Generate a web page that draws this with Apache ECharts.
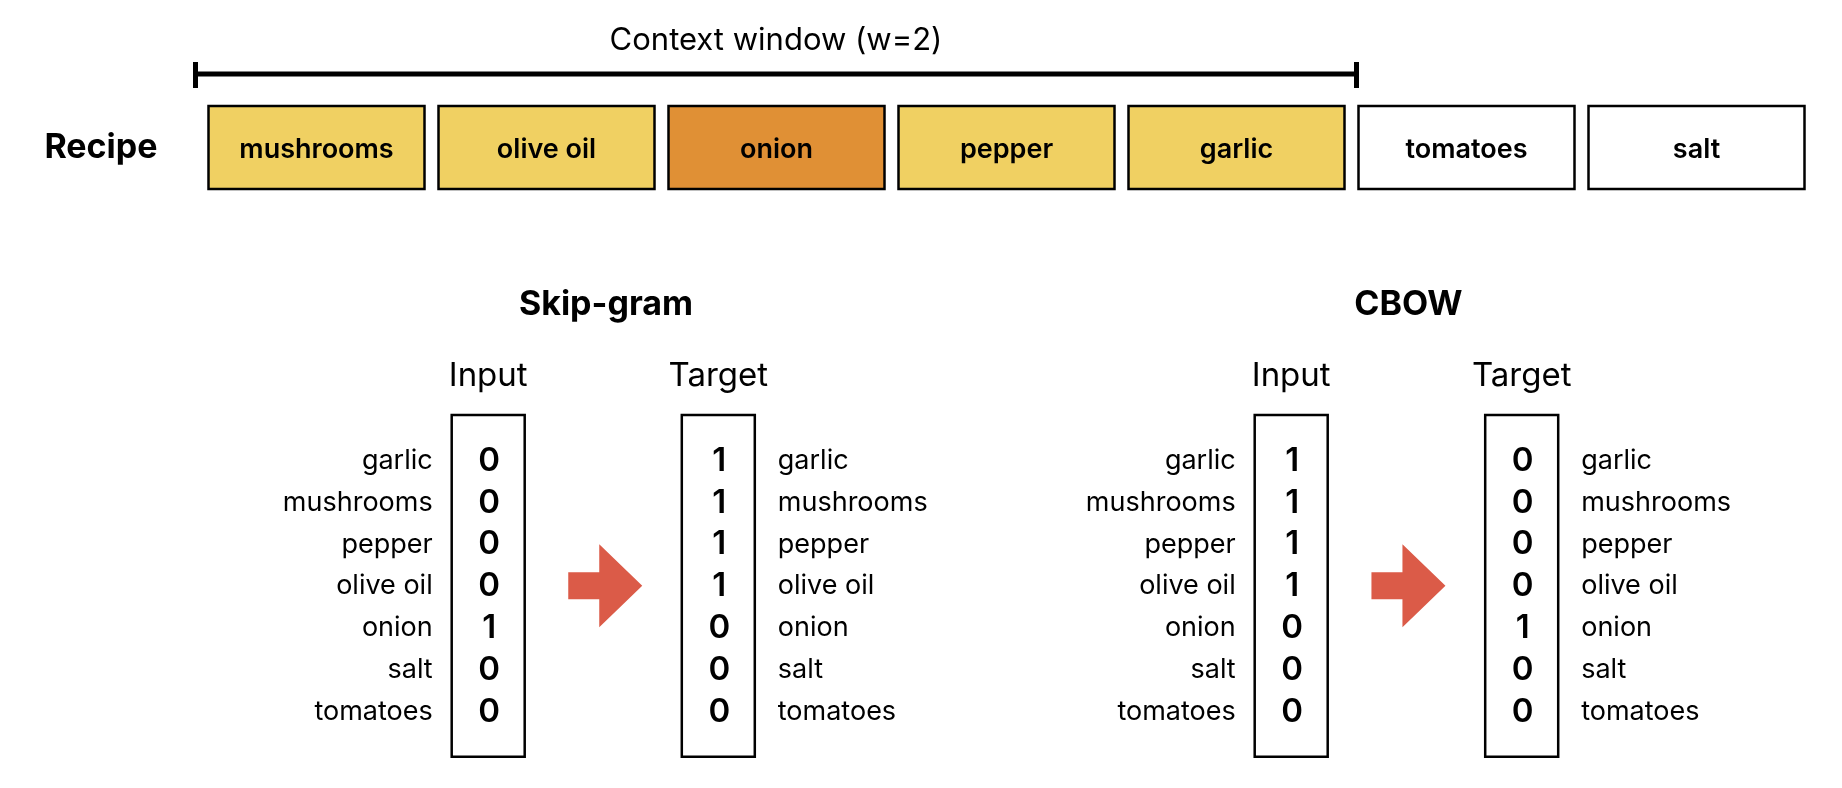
<!DOCTYPE html>
<html style="height: 100%">
  <head>
    <meta charset="utf-8" />
  </head>
  <body style="height: 100%; margin: 0; background: #fff">
    <div id="container" style="width: 1842px; height: 788px"></div>
    <script type="text/javascript" src="https://cdn.jsdelivr.net/npm/echarts@6/dist/echarts.min.js"></script>
    <script type="text/javascript">
      var dom = document.getElementById('container');
      var myChart = echarts.init(dom, null, { renderer: 'canvas' });
      var option;

      // recipe sequence and the context window around the centre word
      var recipe = ['mushrooms', 'olive oil', 'onion', 'pepper', 'garlic', 'tomatoes', 'salt'];
      var centerWord = 'onion';
      var windowSize = 2;

      // vocabulary order of the one-hot vectors
      var vocab = ['garlic', 'mushrooms', 'pepper', 'olive oil', 'onion', 'salt', 'tomatoes'];
      var skipInput = [0, 0, 0, 0, 1, 0, 0];
      var skipTarget = [1, 1, 1, 1, 0, 0, 0];
      var cbowInput = [1, 1, 1, 1, 0, 0, 0];
      var cbowTarget = [0, 0, 0, 0, 1, 0, 0];

      var FONT = 'Inter, "Noto Sans", sans-serif';
      var YELLOW = '#F0D062';
      var ORANGE = '#E09035';
      var ARROW = '#DB5B48';

      var centerIdx = recipe.indexOf(centerWord);

      // the four vector boxes
      var vectors = [
        { left: 451.7, side: 'left', name: 'Input', values: skipInput },
        { left: 681.8, side: 'right', name: 'Target', values: skipTarget },
        { left: 1254.7, side: 'left', name: 'Input', values: cbowInput },
        { left: 1485.2, side: 'right', name: 'Target', values: cbowTarget }
      ];
      var vecTop = 415, vecH = 341.7, vecW = 73;

      var grids = [{ left: 201.5, top: 106, width: 1610, height: 83 }];
      var xAxes = [{
        type: 'category', gridIndex: 0, data: recipe,
        axisLine: { show: false }, axisTick: { show: false }, axisLabel: { show: false }
      }];
      var yAxes = [{
        type: 'category', gridIndex: 0, data: ['Recipe'],
        axisLine: { show: false }, axisTick: { show: false },
        axisLabel: { margin: 44, padding: [4, 0, 0, 0], fontFamily: FONT, fontSize: 34, fontWeight: 'bold', color: '#000' }
      }];

      var series = [
        {
          type: 'custom', xAxisIndex: 0, yAxisIndex: 0,
          data: recipe.map(function (r, i) { return [i, 0]; }),
          renderItem: function (params, api) {
            var i = api.value(0);
            var c = api.coord([i, 0]);
            var band = api.size([1, 1]);
            var d = Math.abs(i - centerIdx);
            var fill = d === 0 ? ORANGE : (d <= windowSize ? YELLOW : '#fff');
            var w = band[0] - 14;
            return {
              type: 'group',
              children: [
                {
                  type: 'rect',
                  shape: { x: c[0] - w / 2, y: c[1] - band[1] / 2, width: w, height: band[1] },
                  style: { fill: fill, stroke: '#000', lineWidth: 2.5 }
                },
                {
                  type: 'text',
                  style: {
                    x: c[0], y: c[1] + 2, text: recipe[i], align: 'center', verticalAlign: 'middle',
                    font: '600 27px ' + FONT, fill: '#000'
                  }
                }
              ]
            };
          }
        },
        {
          // context-window bracket
          type: 'custom', xAxisIndex: 0, yAxisIndex: 0,
          data: [[centerIdx - windowSize, centerIdx + windowSize]],
          renderItem: function (params, api) {
            var band = api.size([1, 1]);
            var a = api.coord([api.value(0), 0]);
            var b = api.coord([api.value(1), 0]);
            var x0 = a[0] - band[0] / 2 - 6;
            var x1 = b[0] + band[0] / 2 + 5;
            var yLine = a[1] - band[1] / 2 - 32;
            var st = { stroke: '#000', lineWidth: 5 };
            return {
              type: 'group',
              children: [
                { type: 'line', shape: { x1: x0, y1: yLine, x2: x1, y2: yLine }, style: st },
                { type: 'line', shape: { x1: x0, y1: yLine - 12, x2: x0, y2: yLine + 14 }, style: st },
                { type: 'line', shape: { x1: x1, y1: yLine - 12, x2: x1, y2: yLine + 14 }, style: st },
                {
                  type: 'text',
                  style: {
                    x: (x0 + x1) / 2, y: yLine - 33, text: 'Context window (w=' + windowSize + ')',
                    align: 'center', verticalAlign: 'middle', font: '31px ' + FONT, fill: '#000'
                  }
                }
              ]
            };
          }
        }
      ];

      vectors.forEach(function (v, k) {
        var gi = k + 1;
        grids.push({
          left: v.left, top: vecTop, width: vecW, height: vecH,
          show: true, borderColor: '#000', borderWidth: 2.5, backgroundColor: 'transparent'
        });
        xAxes.push({
          type: 'value', gridIndex: gi, min: -1, max: 1, position: 'top',
          name: v.name, nameLocation: 'middle', nameGap: 22,
          nameTextStyle: { fontFamily: FONT, fontSize: 33, color: '#000' },
          axisLine: { show: false }, axisTick: { show: false }, axisLabel: { show: false },
          splitLine: { show: false }
        });
        yAxes.push({
          type: 'value', gridIndex: gi, min: -0.1, max: 8.08, inverse: true,
          axisLine: { show: false }, axisTick: { show: false }, splitLine: { show: false },
          axisLabel: { show: false }
        });
        var side = v.side;
        // one row per vocabulary word: name beside the box, value inside it
        series.push({
          type: 'custom', xAxisIndex: gi, yAxisIndex: gi,
          data: v.values.map(function (n, i) { return [0, i + 1, n]; }),
          renderItem: function (params, api) {
            var c = api.coord([api.value(0), api.value(1)]);
            var idx = params.dataIndex;
            return {
              type: 'group',
              children: [
                {
                  type: 'text',
                  style: {
                    x: side === 'left' ? c[0] - 55.5 : c[0] + 59.5, y: c[1],
                    text: vocab[idx], align: side === 'left' ? 'right' : 'left', verticalAlign: 'middle',
                    font: '27px ' + FONT, fill: '#000'
                  }
                },
                {
                  type: 'text',
                  style: {
                    x: c[0] + 1, y: c[1], text: String(api.value(2)), align: 'center', verticalAlign: 'middle',
                    font: '600 33px ' + FONT, fill: '#000'
                  }
                }
              ]
            };
          }
        });
      });

      // arrows between input and target boxes
      function arrow(inV, outV) {
        var cx = (inV.left + vecW + outV.left) / 2 + 2;
        var cy = vecTop + vecH / 2;
        return {
          type: 'polygon',
          shape: {
            points: [
              [cx - 37, cy - 13.5], [cx - 6, cy - 13.5], [cx - 6, cy - 41.5], [cx + 37, cy],
              [cx - 6, cy + 41.5], [cx - 6, cy + 13.5], [cx - 37, cy + 13.5]
            ]
          },
          style: { fill: ARROW }
        };
      }

      option = {
        backgroundColor: '#fff',
        animation: false,
        grid: grids,
        xAxis: xAxes,
        yAxis: yAxes,
        series: series,
        graphic: [
          arrow(vectors[0], vectors[1]),
          arrow(vectors[2], vectors[3]),
          {
            type: 'text', x: 606, y: 305,
            style: { text: 'Skip-gram', align: 'center', verticalAlign: 'middle', font: 'bold 34px ' + FONT, fill: '#000' }
          },
          {
            type: 'text', x: 1408.5, y: 305,
            style: { text: 'CBOW', align: 'center', verticalAlign: 'middle', font: 'bold 34px ' + FONT, fill: '#000' }
          }
        ]
      };

      myChart.setOption(option);
    </script>
  </body>
</html>
